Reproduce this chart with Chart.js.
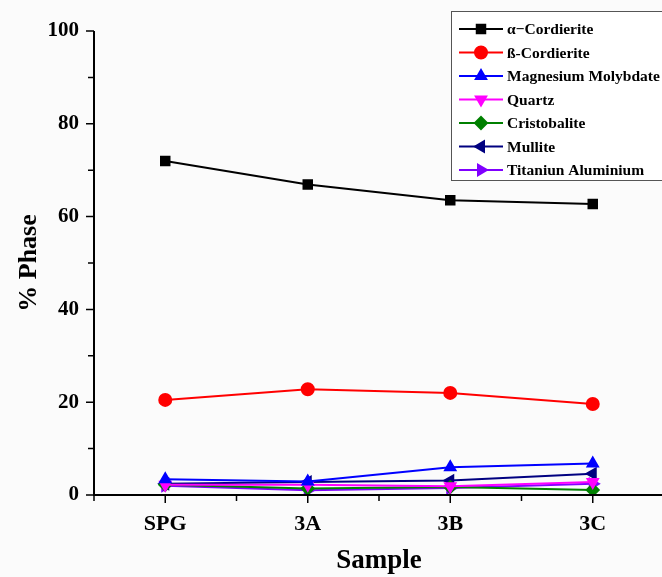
<!DOCTYPE html>
<html>
<head>
<meta charset="utf-8">
<script src="https://cdn.jsdelivr.net/npm/chart.js@4"></script>
<style>
  html, body { margin: 0; padding: 0; background: #fbfbfb; overflow: hidden; }
  #wrap { width: 662px; height: 577px; overflow: hidden; position: relative; }
  #inner { width: 672px; height: 577px; position: absolute; left: 0; top: 0; }
</style>
</head>
<body>
<div id="wrap"><div id="inner"><canvas id="chart"></canvas></div></div>
<script>
const samples = ['SPG', '3A', '3B', '3C'];
const yTicks = [0, 20, 40, 60, 80, 100];

const alphaCordierite = [72.0, 66.9, 63.5, 62.7];
const betaCordierite = [20.5, 22.8, 22.0, 19.6];
const magnesiumMolybdate = [3.4, 2.9, 6.0, 6.8];
const quartz = [2.2, 2.2, 1.9, 2.8];
const cristobalite = [2.2, 1.4, 1.7, 1.1];
const mullite = [2.4, 2.8, 3.1, 4.6];
const titaniumAluminium = [2.0, 1.0, 1.5, 2.4];

const series = [
  { label: 'α−Cordierite', data: alphaCordierite, color: '#000000', style: 'rect', rot: 0 },
  { label: 'ß-Cordierite', data: betaCordierite, color: '#ff0000', style: 'circle', rot: 0 },
  { label: 'Magnesium Molybdate', data: magnesiumMolybdate, color: '#0000ff', style: 'triangle', rot: 0 },
  { label: 'Quartz', data: quartz, color: '#ff00ff', style: 'triangle', rot: 180 },
  { label: 'Cristobalite', data: cristobalite, color: '#008000', style: 'rectRot', rot: 0 },
  { label: 'Mullite', data: mullite, color: '#000080', style: 'triangle', rot: -90 },
  { label: 'Titaniun Aluminium', data: titaniumAluminium, color: '#8000ff', style: 'triangle', rot: 90 }
];

const FONT = "'Liberation Serif', 'Times New Roman', serif";

// axis lines, major + minor ticks
const axesPlugin = {
  id: 'axes',
  afterDraw(chart) {
    const { ctx, chartArea: a, scales: { x, y } } = chart;
    ctx.save();
    ctx.strokeStyle = '#000';
    ctx.lineWidth = 2;
    ctx.beginPath();
    ctx.moveTo(a.left, a.top);
    ctx.lineTo(a.left, a.bottom);
    ctx.lineTo(a.right, a.bottom);
    ctx.stroke();
    ctx.lineWidth = 1.5;
    ctx.beginPath();
    for (let v = 0; v <= 100; v += 10) {
      const py = y.getPixelForValue(v);
      const len = v % 20 === 0 ? 8 : 6;
      ctx.moveTo(a.left, py);
      ctx.lineTo(a.left - len, py);
    }
    const step = x.getPixelForValue(1) - x.getPixelForValue(0);
    for (let i = 0; i < samples.length; i++) {
      const px = x.getPixelForValue(i);
      ctx.moveTo(px, a.bottom);
      ctx.lineTo(px, a.bottom + 8);
      ctx.moveTo(px - step / 2, a.bottom);
      ctx.lineTo(px - step / 2, a.bottom + 6);
    }
    ctx.stroke();
    ctx.restore();
  }
};

// legend box with line + marker samples
const legendPlugin = {
  id: 'boxLegend',
  afterDraw(chart) {
    const { ctx } = chart;
    const bx = 451, by = 11, bw = 230, bh = 169;
    ctx.save();
    ctx.fillStyle = '#ffffff';
    ctx.fillRect(bx, by, bw, bh);
    ctx.strokeStyle = '#555';
    ctx.lineWidth = 1;
    ctx.strokeRect(bx + 0.5, by + 0.5, bw, bh);
    ctx.font = 'bold 15.5px ' + FONT;
    ctx.textBaseline = 'middle';
    chart.data.datasets.forEach((ds, i) => {
      const cy = 29 + i * 23.5;
      ctx.strokeStyle = ds.borderColor;
      ctx.lineWidth = 2;
      ctx.beginPath();
      ctx.moveTo(459, cy);
      ctx.lineTo(503, cy);
      ctx.stroke();
      ctx.fillStyle = ds.borderColor;
      Chart.helpers.drawPoint(ctx, {
        pointStyle: ds.pointStyle, rotation: ds.pointRotation,
        radius: 6, borderWidth: 1
      }, 481, cy);
      ctx.fillStyle = '#000';
      ctx.fillText(ds.label, 507, cy + 1);
    });
    ctx.restore();
  }
};

new Chart(document.getElementById('chart'), {
  type: 'line',
  data: {
    labels: samples,
    datasets: series.map(s => ({
      label: s.label,
      data: s.data,
      borderColor: s.color,
      backgroundColor: s.color,
      pointBackgroundColor: s.color,
      pointBorderColor: s.color,
      pointStyle: s.style,
      pointRotation: s.rot,
      pointRadius: 6,
      borderWidth: 2,
      tension: 0
    }))
  },
  options: {
    responsive: true,
    maintainAspectRatio: false,
    animation: false,
    layout: { padding: { top: 31, right: 8, left: 0, bottom: 0 } },
    plugins: { legend: { display: false }, tooltip: { enabled: false } },
    scales: {
      x: {
        offset: true,
        afterFit: sc => { sc.height = 82; },
        grid: { display: false, drawTicks: false },
        border: { display: false },
        ticks: { color: '#000', font: { family: FONT, size: 22, weight: 'bold' }, padding: 16 },
        title: { display: true, text: 'Sample', color: '#000', font: { family: FONT, size: 27, weight: 'bold' }, padding: { top: 0, bottom: 0 } }
      },
      y: {
        min: 0,
        max: 100,
        afterFit: sc => { sc.width = 94; },
        afterBuildTicks: sc => { sc.ticks = yTicks.map(v => ({ value: v })); },
        grid: { display: false, drawTicks: false },
        border: { display: false },
        ticks: { color: '#000', font: { family: FONT, size: 21, weight: 'bold' }, padding: 15 },
        title: { display: true, text: '% Phase', color: '#000', font: { family: FONT, size: 26, weight: 'bold' }, padding: { top: 14, bottom: 0 } }
      }
    }
  },
  plugins: [axesPlugin, legendPlugin]
});
</script>
</body>
</html>
